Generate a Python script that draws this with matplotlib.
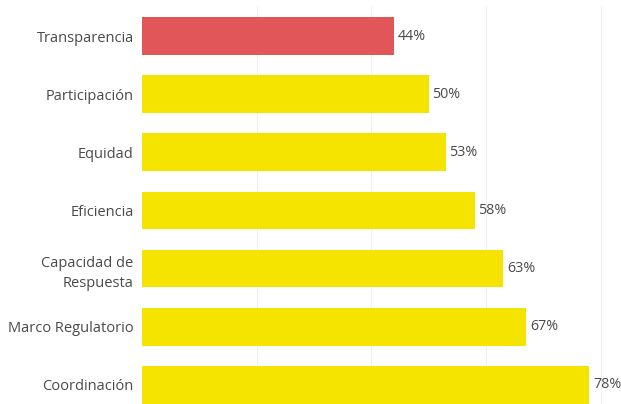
import matplotlib.pyplot as plt

categorias = ['Transparencia', 'Participación', 'Equidad', 'Eficiencia',
              'Capacidad de\nRespuesta', 'Marco Regulatorio', 'Coordinación']
valores = [44, 50, 53, 58, 63, 67, 78]
colores = ['#E15759', '#F5E400', '#F5E400', '#F5E400', '#F5E400', '#F5E400', '#F5E400']

plt.rcParams['font.family'] = ['Open Sans', 'DejaVu Sans']

fig = plt.figure(figsize=(6.21, 4.04), dpi=100)
ax = fig.add_axes([142 / 621, 0, 1 - 142 / 621, 397 / 404])

y = list(range(len(categorias)))
ax.barh(y, valores, height=0.65, color=colores, zorder=2)
for yi, v in zip(y, valores):
    ax.text(v + 0.6, yi, f'{v}%', va='center', ha='left', fontsize=10.3, color='#4a4a4a')

ax.set_xlim(0, 83.5)
ax.set_ylim(6.33, -0.5)
ax.set_xticks([20, 40, 60, 80])
ax.grid(axis='x', color='#eeeeee', linewidth=0.8, zorder=0)
ax.set_yticks(y)
ax.set_yticklabels(categorias, fontsize=10.5, color='#4a4a4a', linespacing=1.5)
ax.tick_params(axis='y', length=0, pad=6)
ax.tick_params(axis='x', length=0, labelbottom=False)
for s in ax.spines.values():
    s.set_visible(False)

fig.savefig('out.png', dpi=100)
